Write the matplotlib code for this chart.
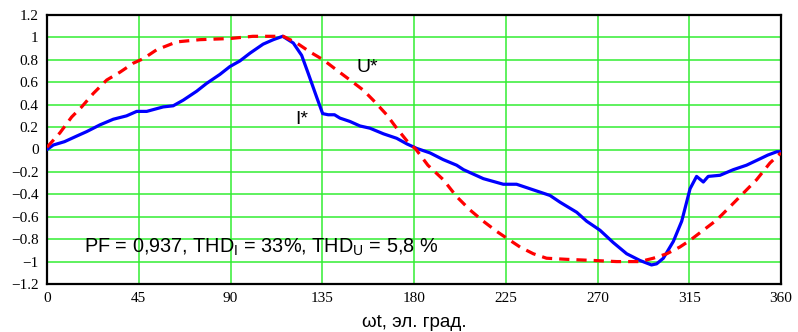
import matplotlib
matplotlib.use("Agg")
import matplotlib.pyplot as plt
import numpy as np

# Voltage U* (red dashed)
u_deg = [0, 6.4, 12.1, 17, 22.7, 29.3, 35.8, 42.3, 47.2, 53.8, 63.6, 75, 89.7, 101, 112.6,
         115.9, 122.5, 129, 135.5, 142, 148.6, 155.1, 160, 166.6, 171.5, 176.4, 181, 186.8,
         194.4, 200.9, 207.5, 214, 220.5, 225.4, 232, 238.5, 245, 255, 268, 279.4, 290.8,
         297.4, 304, 310.4, 315.4, 321.9, 328.4, 335, 341.5, 348, 354.6, 360]
u_val = [0.02, 0.15, 0.29, 0.38, 0.50, 0.62, 0.69, 0.77, 0.81, 0.89, 0.96, 0.98, 0.99, 1.01, 1.01,
         1.01, 0.95, 0.87, 0.80, 0.71, 0.62, 0.53, 0.44, 0.31, 0.19, 0.08, 0.0, -0.14,
         -0.27, -0.42, -0.54, -0.64, -0.73, -0.79, -0.87, -0.93, -0.97, -0.98, -0.99, -1.0, -1.0,
         -0.97, -0.93, -0.87, -0.81, -0.72, -0.63, -0.51, -0.39, -0.27, -0.12, -0.03]

# Current I* (blue solid)
i_deg = [0, 3.1, 8.6, 14.6, 19.5, 26, 32.5, 39, 44, 48.9, 57, 61.9, 66.8, 73.4, 78.3, 84.8,
         89.7, 94.6, 99.6, 106, 111, 115.6, 120.8, 124.9, 128.1, 132.2, 135.2, 137.9, 141,
         143.7, 148.6, 153.5, 158.4, 165, 171.5, 176.5, 181.3, 187.8, 194.3, 200.9, 204.3,
         214, 223.8, 230.3, 238.5, 246.7, 251.6, 259.8, 264.7, 271.2, 277.7, 284.3, 290.8,
         296.5, 299, 302.3, 307.2, 311.3, 315.4, 318.6, 321.9, 324.3, 330.1, 336.6, 343.1,
         348.9, 353.5, 357.9, 360]
i_val = [0.0, 0.04, 0.07, 0.12, 0.16, 0.22, 0.27, 0.30, 0.34, 0.34, 0.38, 0.39, 0.44, 0.52, 0.59, 0.67,
         0.74, 0.79, 0.86, 0.94, 0.98, 1.01, 0.95, 0.84, 0.68, 0.47, 0.32, 0.31, 0.31,
         0.28, 0.25, 0.21, 0.19, 0.14, 0.10, 0.05, 0.01, -0.03, -0.09, -0.14, -0.18,
         -0.26, -0.31, -0.31, -0.36, -0.41, -0.47, -0.56, -0.64, -0.72, -0.83, -0.93, -0.99,
         -1.03, -1.02, -0.97, -0.82, -0.64, -0.35, -0.24, -0.29, -0.24, -0.23, -0.18, -0.14,
         -0.09, -0.05, -0.02, -0.02]

x_ticks = [0, 45, 90, 135, 180, 225, 270, 315, 360]
y_ticks = [-1.2, -1, -0.8, -0.6, -0.4, -0.2, 0, 0.2, 0.4, 0.6, 0.8, 1, 1.2]
y_labels = ["\u22121.2", "\u22121", "\u22120.8", "\u22120.6", "\u22120.4", "\u22120.2", "0",
            "0.2", "0.4", "0.6", "0.8", "1", "1.2"]

fig = plt.figure(figsize=(7.98, 3.32), dpi=100)
ax = fig.add_axes([47/798, 1-284/332, (781-47)/798, (284-15)/332])

ax.plot(i_deg, i_val, color="#0000ff", lw=2.3, zorder=3)
ax.plot(u_deg, u_val, color="#ff0000", lw=2.3, dashes=(3.2, 2.2), zorder=4)

ax.set_xlim(0, 360)
ax.set_ylim(-1.2, 1.2)
ax.set_xticks(x_ticks)
ax.set_xticklabels([str(t) for t in x_ticks], family="Liberation Serif", fontsize=11)
ax.set_yticks(y_ticks)
ax.set_yticklabels(y_labels, family="Liberation Serif", fontsize=11)
ax.tick_params(length=0, pad=6)
ax.grid(True, color="#33ee33", lw=1.1, zorder=0)
for s in ax.spines.values():
    s.set_color("black")
    s.set_linewidth(1.6)

ax.set_xlabel("\u03c9t, эл. град.", family="Liberation Sans", fontsize=13.5, labelpad=6)

ax.text(152, 0.69, "U*", family="Liberation Sans", fontsize=14)
ax.text(122, 0.23, "I*", family="Liberation Sans", fontsize=14)
ax.text(18, -0.92, r"PF = 0,937, THD$_\mathregular{I}$ = 33%, THD$_\mathregular{U}$ = 5,8 %",
        family="Liberation Sans", fontsize=14.3)

fig.savefig("out.png", dpi=100)
